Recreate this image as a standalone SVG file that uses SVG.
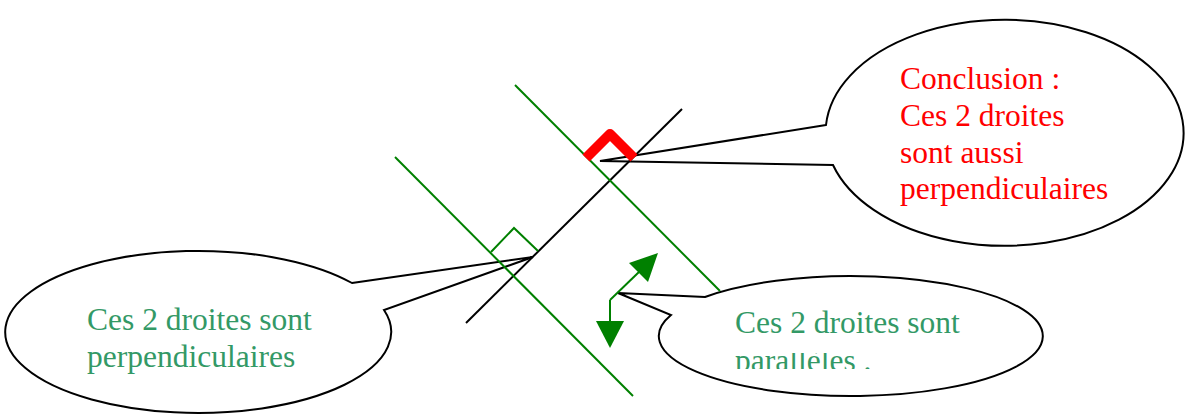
<svg xmlns="http://www.w3.org/2000/svg" width="1187" height="416" viewBox="0 0 1187 416">
  <style>
    .callout { fill: #ffffff; stroke: #000000; stroke-width: 2; stroke-linejoin: miter; }
    .txt { font-family: "Liberation Serif", "Times New Roman", serif; font-size: 31.5px; }
    .green-txt { fill: #339966; }
    .red-txt { fill: #ff0000; }
    .gline { stroke: #008000; stroke-width: 2; fill: none; }
    .bline { stroke: #000000; stroke-width: 2; fill: none; }
    .ghead { fill: #008000; stroke: none; }
  </style>
  <defs>
    <clipPath id="clipPar">
      <rect x="700" y="353" width="320" height="16"/>
    </clipPath>
  </defs>
  <rect width="1187" height="416" fill="#ffffff"/>

  <g id="callout-conclusion">
    <path class="callout" d="M826,125 L600,161 L833,165 A179,113 0 1 0 826,125 Z"/>
    <text class="txt red-txt" x="900" y="89">Conclusion :</text>
    <text class="txt red-txt" x="900" y="126">Ces 2 droites</text>
    <text class="txt red-txt" x="900" y="162.5">sont aussi</text>
    <text class="txt red-txt" x="900" y="199">perpendiculaires</text>
  </g>

  <g id="callout-perpendiculaires">
    <path class="callout" d="M352,283 L533,257 L384,310 A193,81 0 1 1 352,283 Z"/>
    <text class="txt green-txt" x="87" y="330">Ces 2 droites sont</text>
    <text class="txt green-txt" x="87" y="367">perpendiculaires</text>
  </g>

  <g id="callout-paralleles">
    <path class="callout" d="M705,297 L618,293 L671,315 A192,60 0 1 0 705,297 Z"/>
    <text class="txt green-txt" x="735" y="333">Ces 2 droites sont</text>
    <text class="txt green-txt" x="735" y="370.5" clip-path="url(#clipPar)">parallèles .</text>
  </g>

  <g id="connectors">
    <line id="black-line" class="bline" x1="466" y1="323" x2="682" y2="109"/>
    <line id="green-line-1" class="gline" x1="395" y1="157" x2="633" y2="396"/>
    <line id="green-line-2" class="gline" x1="515" y1="85" x2="720" y2="291"/>
    <polyline id="right-angle-green" class="gline" points="491,252 514,228 538,251"/>
    <polyline id="right-angle-red" points="586,158 610,134 634,158" fill="none" stroke="#ff0000" stroke-width="10" stroke-linejoin="round"/>
    <g id="arrow-up-right">
      <line class="gline" x1="610" y1="300" x2="640" y2="271" stroke-width="2.5"/>
      <polygon class="ghead" points="658,253 629,263 648,282"/>
    </g>
    <g id="arrow-down">
      <line class="gline" x1="610" y1="300" x2="610" y2="322" stroke-width="2.5"/>
      <polygon class="ghead" points="596,321 624,321 610,348"/>
    </g>
  </g>
</svg>
